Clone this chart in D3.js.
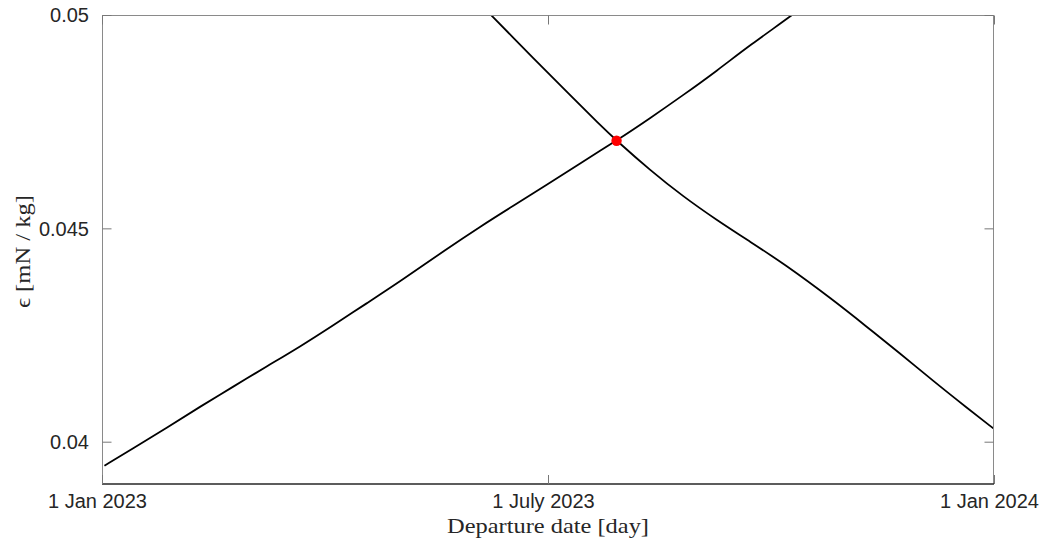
<!DOCTYPE html>
<html>
<head>
<meta charset="utf-8">
<script src="https://cdn.jsdelivr.net/npm/d3@7"></script>
<style>
  html, body { margin: 0; padding: 0; background: #fff; }
  svg { display: block; }
</style>
</head>
<body>
<svg id="chart" width="1045" height="543"></svg>
<script>
// ---- Data (days since 1 Jan 2023, epsilon in mN/kg) ----
const risingDays = [1, 12.8, 26.5, 40.1, 53.7, 67.4, 81.0, 94.6, 108.3, 121.9, 141.0, 154.7, 168.3, 182.0, 195.6, 210.5, 224.2, 237.9, 251.5, 265.2, 282.6, 296];
const risingEps  = [0.039437, 0.039845, 0.040328, 0.040820, 0.041290, 0.041765, 0.042226, 0.042728, 0.043243, 0.043750, 0.044516, 0.045039, 0.045531, 0.046016, 0.046524, 0.047054, 0.047579, 0.048125, 0.048688, 0.049297, 0.050000, 0.050590];

const fallingDays = [145, 159.2, 177.2, 191.5, 203.8, 210.6, 224.2, 237.9, 251.5, 265.2, 278.8, 299.2, 312.9, 326.5, 340.2, 353.8, 365];
const fallingEps  = [0.050832, 0.050000, 0.048945, 0.048125, 0.047422, 0.047054, 0.046367, 0.045742, 0.045196, 0.044687, 0.044181, 0.043321, 0.042695, 0.042072, 0.041420, 0.040800, 0.040300];

const crossDay = [210.55];
const crossEps = [0.047054];

const xTickValues = [0, 182.5, 365];
const xTickLabels = ["1 Jan 2023", "1 July 2023", "1 Jan 2024"];
const yTickValues = [0.04, 0.045, 0.05];
const yTickLabels = ["0.04", "0.045", "0.05"];

const xLabel = "Departure date [day]";
const yLabel = "\u03F5 [mN / kg]";

// ---- Layout ----
const L = 102, R = 994, T = 15, B = 484;
const svg = d3.select("#chart");

const x = d3.scaleLinear().domain([0, 365]).range([L, R]);
const y = d3.scaleLinear().domain([0.050 - (B - T) / 42670, 0.05]).range([B, T]);

svg.append("defs").append("clipPath").attr("id", "plotclip")
  .append("rect").attr("x", L).attr("y", T).attr("width", R - L).attr("height", B - T);

// curves
const line = d3.line().x(d => x(d[0])).y(d => y(d[1])).curve(d3.curveBasis);
const g = svg.append("g").attr("clip-path", "url(#plotclip)");
g.append("path").datum(risingDays.map((d, i) => [d, risingEps[i]]))
  .attr("d", line).attr("fill", "none").attr("stroke", "#000").attr("stroke-width", 1.8);
g.append("path").datum(fallingDays.map((d, i) => [d, fallingEps[i]]))
  .attr("d", line).attr("fill", "none").attr("stroke", "#000").attr("stroke-width", 1.8);

// crossing point
svg.selectAll("circle.cross").data(crossDay).enter().append("circle")
  .attr("class", "cross")
  .attr("cx", d => x(d)).attr("cy", (d, i) => y(crossEps[i]))
  .attr("r", 5.2).attr("fill", "#ff0000");

// frame
const frame = svg.append("g");
frame.append("line").attr("x1", L).attr("x2", R).attr("y1", T + 0.5).attr("y2", T + 0.5).attr("stroke", "#8a8a8a").attr("stroke-width", 1);
frame.append("line").attr("x1", L + 0.5).attr("x2", L + 0.5).attr("y1", T).attr("y2", B).attr("stroke", "#8a8a8a").attr("stroke-width", 1);
frame.append("line").attr("x1", R - 0.5).attr("x2", R - 0.5).attr("y1", T).attr("y2", B).attr("stroke", "#8a8a8a").attr("stroke-width", 1);
frame.append("line").attr("x1", L).attr("x2", R).attr("y1", B).attr("y2", B).attr("stroke", "#262626").attr("stroke-width", 1.3);

// axes using d3 axis (inward ticks)
const tickLen = 9;
const font = "'Liberation Sans', Arial, Helvetica, sans-serif";

const axL = d3.axisRight(y).tickValues(yTickValues).tickSize(tickLen).tickFormat("");
const gL = svg.append("g").attr("transform", `translate(${L + 0.5},0)`).call(axL);
const axR = d3.axisLeft(y).tickValues(yTickValues).tickSize(tickLen).tickFormat("");
const gR = svg.append("g").attr("transform", `translate(${R - 0.5},0)`).call(axR);
const axB = d3.axisTop(x).tickValues(xTickValues).tickSize(tickLen).tickFormat("");
const gB = svg.append("g").attr("transform", `translate(0,${B})`).call(axB);
const axT = d3.axisBottom(x).tickValues(xTickValues).tickSize(tickLen).tickFormat("");
const gT = svg.append("g").attr("transform", `translate(0,${T + 0.5})`).call(axT);
[gL, gR, gB, gT].forEach(a => {
  a.select(".domain").remove();
  a.selectAll(".tick line").attr("stroke", "#777").attr("stroke-width", 1);
});

// tick labels
svg.append("g").selectAll("text").data(yTickValues).enter().append("text")
  .attr("x", L - 13).attr("y", d => y(d)).attr("dy", "0.36em")
  .attr("text-anchor", "end").attr("font-family", font).attr("font-size", 20)
  .attr("fill", "#262626").text((d, i) => yTickLabels[i]);

svg.append("g").selectAll("text").data(xTickValues).enter().append("text")
  .attr("x", d => x(d) - 4.5).attr("y", 508)
  .attr("text-anchor", "middle").attr("font-family", font).attr("font-size", 20)
  .attr("fill", "#262626").text((d, i) => xTickLabels[i]);

// axis labels
const serif = "'Liberation Serif', 'Times New Roman', serif";
svg.append("text").attr("x", (L + R) / 2).attr("y", 533)
  .attr("text-anchor", "middle").attr("font-family", serif).attr("font-size", 21)
  .attr("textLength", 202).attr("lengthAdjust", "spacingAndGlyphs")
  .attr("fill", "#262626").text(xLabel);

svg.append("text").attr("transform", `translate(30,${(T + B) / 2 + 2}) rotate(-90)`)
  .attr("text-anchor", "middle").attr("font-family", serif).attr("font-size", 21)
  .attr("textLength", 113).attr("lengthAdjust", "spacingAndGlyphs")
  .attr("fill", "#262626").text(yLabel);
</script>
</body>
</html>
